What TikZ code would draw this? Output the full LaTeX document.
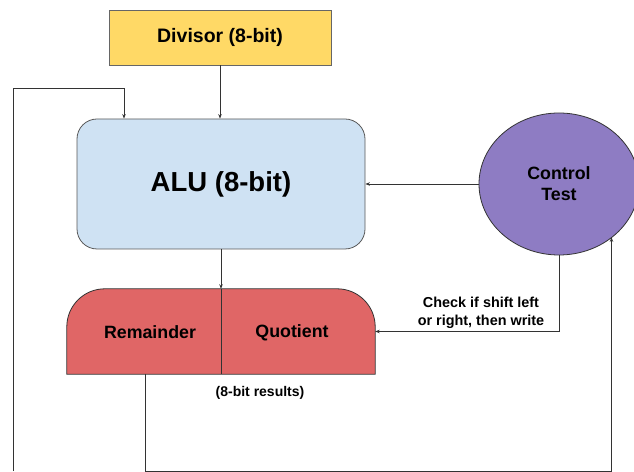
\documentclass[tikz,border=0pt]{standalone}
\usepackage{fontspec}
\setmainfont{Liberation Sans}
\usetikzlibrary{arrows.meta,shapes.geometric}
\definecolor{divfill}{HTML}{FFD966}
\definecolor{alufill}{HTML}{CFE2F3}
\definecolor{ctrlfill}{HTML}{8E7CC3}
\definecolor{rqfill}{HTML}{E06666}
\definecolor{edge}{HTML}{333333}
\tikzset{
  conn/.style={draw=edge, line width=0.75pt},
  arr/.style={conn, -{Stealth[length=4.5pt,width=3.5pt]}},
  lbl/.style={font=\bfseries, align=center, inner sep=0pt},
}
\begin{document}
\begin{tikzpicture}[x=1pt,y=1pt]
\useasboundingbox (0,0) rectangle (634,471);
% nodes
\node[draw=black!60, fill=divfill, line width=0.8pt, minimum width=222pt, minimum height=55pt, inner sep=0pt,
      font=\fontsize{19.5}{23}\selectfont\bfseries] (div) at (220,433.5) {Divisor (8-bit)};
\node[draw=black!65, fill=alufill, line width=0.8pt, rounded corners=20pt, minimum width=288pt, minimum height=130pt, inner sep=0pt,
      font=\fontsize{27.5}{32}\selectfont\bfseries] (alu) at (221,287) {ALU (8-bit)};
\node[ellipse, draw=edge, fill=ctrlfill, line width=0.8pt, minimum width=160pt, minimum height=142pt, inner sep=0pt,
      lbl, font=\fontsize{17.8}{21}\selectfont\bfseries] (ctrl) at (559,287) {Control\\Test};
% remainder / quotient block
\node[minimum width=308pt, minimum height=85pt, inner sep=0pt] (rq) at (221,139.5) {};
\draw[draw=edge, fill=rqfill, line width=0.8pt]
  (rq.south west) -- ([yshift=-38pt]rq.north west) arc[start angle=180, end angle=90, radius=38pt]
  -- ([xshift=-38pt]rq.north east) arc[start angle=90, end angle=0, radius=38pt]
  -- (rq.south east) -- cycle;
\draw[conn] (rq.north) -- (rq.south);
\node[lbl, font=\fontsize{17.8}{21}\selectfont\bfseries] (rem) at (150,138.5) {Remainder};
\node[lbl, font=\fontsize{17.8}{21}\selectfont\bfseries] (quo) at (292,138.5) {Quotient};
\node[lbl, font=\fontsize{14.4}{18}\selectfont\bfseries] (chk) at (481,158) {Check if shift left\\or right, then write};
\node[lbl, font=\fontsize{14}{18}\selectfont\bfseries] (res) at (260,78) {(8-bit results)};
% coordinates for loops
\coordinate (lb) at (13,0);
\coordinate (lt) at (124,383);
\coordinate (rb) at (145,97);
\coordinate (bl) at (145,0.1);
\coordinate (br) at (611.5,0.1);
% connectors
\draw[arr] (div.south) -- (div.south |- alu.north);
\draw[arr] (lb) |- (lt) -- (lt |- alu.north);
\draw[arr] (ctrl) -- (alu);
\draw[arr] (alu.south) -- (rq.north);
\draw[arr] (ctrl.south) |- (rq.east);
\draw[arr] (rb) -- (bl) -- (br) -- (br |- ctrl.-45);
\end{tikzpicture}
\end{document}
